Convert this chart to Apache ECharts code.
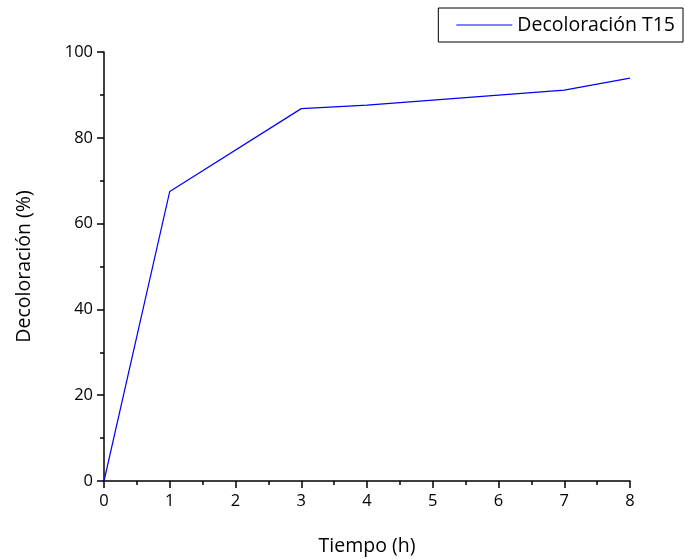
<!DOCTYPE html>
<html>
<head>
<meta charset="utf-8">
<script src="https://cdn.jsdelivr.net/npm/echarts@6/dist/echarts.min.js"></script>
<style>
  html, body { margin: 0; padding: 0; background: #fff; }
  #chart { width: 685px; height: 559px; }
</style>
</head>
<body>
<div id="chart"></div>
<script>
// Decolorization over time for sample T15
const hours = [0, 1, 3, 4, 7, 8];
const decolorization = [0, 67.5, 86.8, 87.6, 91.1, 93.9];
const seriesName = 'Decoloración T15';

const chart = echarts.init(document.getElementById('chart'));
const font = '"Open Sans", "Noto Sans", sans-serif';

chart.setOption({
  animation: false,
  backgroundColor: '#ffffff',
  grid: { left: 104, right: 55, top: 52, bottom: 78, outerBoundsMode: 'none' },
  legend: {
    right: 2, top: 8,
    padding: [7, 8, 7, 18],
    borderColor: '#000', borderWidth: 1,
    itemWidth: 56, itemHeight: 1, itemGap: 6,
    textStyle: { fontFamily: font, fontSize: 19.5, color: '#000' },
    data: [{ name: seriesName, icon: 'rect' }]
  },
  xAxis: {
    type: 'value', min: 0, max: 8, interval: 1,
    name: 'Tiempo (h)', nameLocation: 'middle', nameGap: 55,
    nameTextStyle: { fontFamily: font, fontSize: 19.5, color: '#000' },
    axisLine: { lineStyle: { color: '#000', width: 1.5 } },
    axisTick: { inside: false, length: 7, lineStyle: { color: '#000', width: 1.5 } },
    minorTick: { show: true, splitNumber: 2, length: 4, lineStyle: { color: '#000', width: 1.5 } },
    axisLabel: { fontFamily: font, fontSize: 16.5, color: '#000', margin: 12 },
    splitLine: { show: false }
  },
  yAxis: {
    type: 'value', min: 0, max: 100, interval: 20,
    name: 'Decoloración (%)', nameLocation: 'middle', nameGap: 70, nameRotate: 90,
    nameTextStyle: { fontFamily: font, fontSize: 19.5, color: '#000' },
    axisLine: { show: true, lineStyle: { color: '#000', width: 1.5 } },
    axisTick: { show: true, inside: false, length: 7, lineStyle: { color: '#000', width: 1.5 } },
    minorTick: { show: true, splitNumber: 2, length: 4, lineStyle: { color: '#000', width: 1.5 } },
    axisLabel: { fontFamily: font, fontSize: 16.5, color: '#000', margin: 11 },
    splitLine: { show: false }
  },
  series: [{
    name: seriesName,
    type: 'line',
    symbol: 'none',
    data: hours.map((h, i) => [h, decolorization[i]]),
    lineStyle: { color: '#0000ff', width: 1.2 },
    itemStyle: { color: '#0000ff' }
  }]
});
</script>
</body>
</html>
